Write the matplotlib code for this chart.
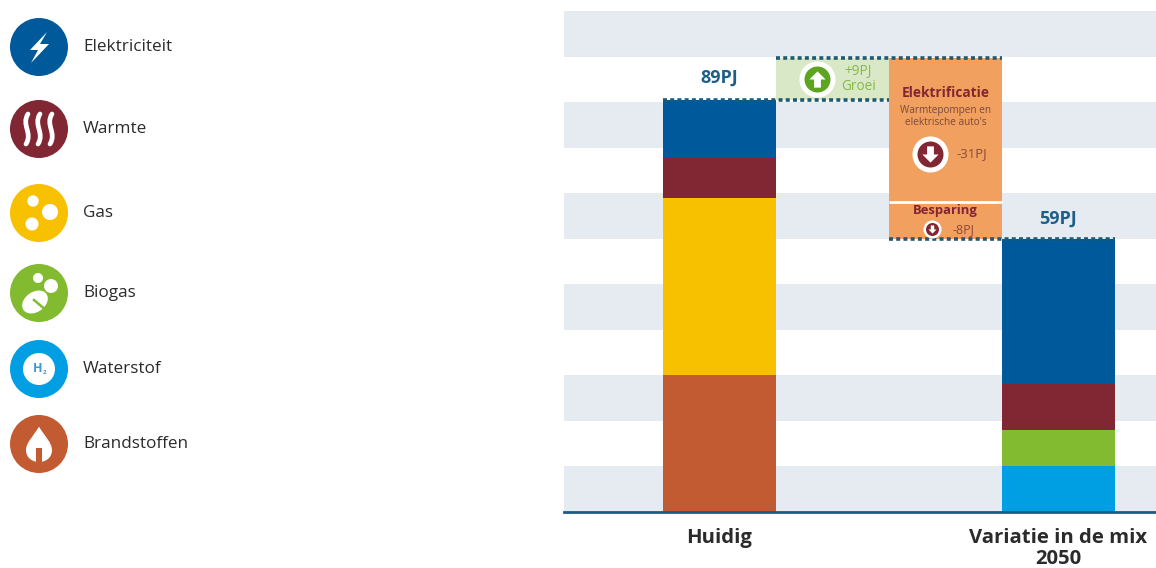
import matplotlib
matplotlib.use("Agg")
import matplotlib.pyplot as plt
from matplotlib.patches import Circle, Ellipse, Polygon, PathPatch, Rectangle
from matplotlib.path import Path

plt.rcParams['font.family'] = ['Open Sans', 'DejaVu Sans']

# Energy mix in PJ, bottom to top
categories = ["Huidig", "Variatie in de mix\n2050"]
huidig_names = ["Brandstoffen", "Gas", "Warmte", "Elektriciteit"]
huidig_values = [29.6, 38.2, 8.6, 12.6]
mix_names = ["Waterstof", "Biogas", "Warmte", "Elektriciteit"]
mix_values = [9.9, 7.8, 9.9, 31.4]
totals = [89, 59]
groei = 9
elektrificatie = 31
besparing = 8

legend_names = ["Elektriciteit", "Warmte", "Gas", "Biogas", "Waterstof", "Brandstoffen"]
legend_y = [47, 129, 213, 293, 369, 444]

colors = {
    "Elektriciteit": "#00599a",
    "Warmte": "#812633",
    "Gas": "#f7c100",
    "Biogas": "#82bb30",
    "Waterstof": "#009fe3",
    "Brandstoffen": "#c25b32",
}
band_color = "#e6ebf2"
orange = "#f2a05f"
light_green = "#d9e8c6"
dot_color = "#1f5a70"
title_blue = "#1f5f85"
text_color = "#2b2b2b"

W, H = 1156, 568
BASE = 512
PX_PER_PJ = 4.63
BAND = 9.83

fig = plt.figure(figsize=(W / 100, H / 100), dpi=100)

# Main chart, one x unit is one column width
ax = fig.add_axes([564 / W, (H - BASE) / H, (W - 564) / W, BASE / H])
ax.set_xlim(-1.376, 3.863)
ax.set_ylim(0, BASE / PX_PER_PJ)
ax.patch.set_visible(False)

# Horizontal background stripes
for k in range(6):
    ax.axhspan(2 * k * BAND, (2 * k + 1) * BAND, color=band_color, lw=0, zorder=0)

# Stacked columns
for x, names, values in [(0, huidig_names, huidig_values), (3, mix_names, mix_values)]:
    bottom = 0
    for name, val in zip(names, values):
        ax.bar(x, val, width=1, bottom=bottom, color=colors[name], zorder=2)
        bottom += val

# Waterfall steps between the two columns
top = totals[0] + groei
ax.bar(1, groei, width=1, bottom=totals[0], color=light_green, zorder=1)
ax.bar(2, elektrificatie, width=1, bottom=top - elektrificatie, color=orange, zorder=1)
ax.bar(2, besparing, width=1, bottom=totals[1], color=orange, zorder=1)
ax.hlines(top - elektrificatie, 1.5, 2.5, color="white", lw=2, zorder=2)

# Dotted level lines
dots = dict(color=dot_color, lw=2.6, linestyle=(0, (1.1, 0.9)), zorder=3)
ax.plot([-0.5, 1.5], [totals[0], totals[0]], **dots)
ax.plot([0.5, 2.5], [top, top], **dots)
ax.plot([1.5, 3.5], [totals[1], totals[1]], **dots)

# Totals above the columns
ax.text(0, totals[0] + 4.7, f"{totals[0]}PJ", color=title_blue, fontsize=13,
        fontweight="bold", ha="center", va="center")
ax.text(3, totals[1] + 4.4, f"{totals[1]}PJ", color=title_blue, fontsize=13,
        fontweight="bold", ha="center", va="center")

ARROW_UP = [(0, 1), (1, 0), (0.42, 0), (0.42, -1), (-0.42, -1), (-0.42, 0), (-1, 0)]
ARROW_DOWN = [(px, -py) for px, py in ARROW_UP]


def arrow_badge(x, y, ring, color, arrow):
    ax.plot(x, y, marker="o", ms=ring, mfc="white", mec="none", zorder=4)
    ax.plot(x, y, marker="o", ms=ring * 0.72, mfc=color, mec="none", zorder=5)
    ax.plot(x, y, marker=arrow, ms=ring * 0.45, mfc="white", mec="none", zorder=6)


# Growth box
mid_groei = totals[0] + groei / 2
arrow_badge(0.863, mid_groei, 26, "#5ea51f", ARROW_UP)
ax.text(1.226, mid_groei, f"+{groei}PJ\nGroei", color="#86b84a", fontsize=9.8,
        ha="center", va="center", linespacing=1.0)

# Electrification box
el_top = top
ax.text(2, el_top - 7.4, "Elektrificatie", color=colors["Warmte"], fontsize=9.8,
        fontweight="bold", ha="center", va="center")
ax.text(2, el_top - 12.6, "Warmtepompen en\nelektrische auto's", color="#7a4a3a", fontsize=7.2,
        ha="center", va="center", linespacing=1.2)
arrow_badge(1.863, el_top - 20.6, 26, colors["Warmte"], ARROW_DOWN)
ax.text(2.23, el_top - 20.6, f"-{elektrificatie}PJ", color="#8a4a3a", fontsize=9.5,
        ha="center", va="center")

# Savings box
ax.text(2, totals[1] + 6.2, "Besparing", color=colors["Warmte"], fontsize=9.4,
        fontweight="bold", ha="center", va="center")
arrow_badge(1.88, totals[1] + 2.1, 13, colors["Warmte"], ARROW_DOWN)
ax.text(2.16, totals[1] + 2.1, f"-{besparing}PJ", color="#8a4a3a", fontsize=9,
        ha="center", va="center")

# Axis: only the baseline and the category labels
for s in ["top", "left", "right"]:
    ax.spines[s].set_visible(False)
ax.spines["bottom"].set_color("#1d5a85")
ax.spines["bottom"].set_linewidth(2)
ax.spines["bottom"].set_zorder(7)
ax.set_yticks([])
ax.set_xticks([0, 3])
ax.set_xticklabels(categories, fontsize=14.6, fontweight="bold", color=text_color, linespacing=1.1)
ax.tick_params(axis="x", length=0, pad=11.5)

# Legend in pixel coordinates
lg = fig.add_axes([0, 0, 1, 1])
lg.set_xlim(0, W)
lg.set_ylim(H, 0)
lg.axis("off")


def stroke(cx, cy, verts, codes=None, **kw):
    pts = [(cx + a, cy + b) for a, b in verts]
    lg.add_patch(PathPatch(Path(pts, codes), **kw))


def icon_elektriciteit(cx, cy):
    bolt = [(8, -15), (-9, 3), (-1, 3), (-8, 16), (10, -3), (1, -3)]
    lg.add_patch(Polygon([(cx + a, cy + b) for a, b in bolt], fc="white", ec="none"))


def icon_warmte(cx, cy):
    c4 = [Path.MOVETO, Path.CURVE4, Path.CURVE4, Path.CURVE4]
    for dx in (-12, 0, 12):
        stroke(cx, cy, [(dx + 1, -15), (dx - 6, -4), (dx + 6, 4), (dx - 1, 15)], c4,
               fc="none", ec="white", lw=3.4, capstyle="round")


def icon_gas(cx, cy):
    for dx, dy, r in [(-6, -12, 5.7), (11, -1, 8), (-7, 11, 6.5)]:
        lg.add_patch(Circle((cx + dx, cy + dy), r, fc="white", ec="none"))


def icon_biogas(cx, cy):
    for dx, dy, r in [(-1, -15, 5), (12, -7, 7)]:
        lg.add_patch(Circle((cx + dx, cy + dy), r, fc="white", ec="none"))
    lg.add_patch(Ellipse((cx - 4, cy + 9), 28, 20, angle=-35, fc="white", ec="none"))
    lg.plot([cx - 5, cx + 8], [cy + 7, cy + 18], color=colors["Biogas"], lw=1.8)


def icon_waterstof(cx, cy):
    lg.add_patch(Circle((cx, cy), 16, fc="white", ec="none"))
    lg.text(cx - 1.5, cy - 0.5, "H", color="#3f97cf", fontsize=9, fontweight="bold",
            ha="center", va="center")
    lg.text(cx + 6, cy + 4, "2", color="#3f97cf", fontsize=4.5, fontweight="bold",
            ha="center", va="center")


def icon_brandstoffen(cx, cy):
    c4 = [Path.MOVETO, Path.CURVE4, Path.CURVE4, Path.CURVE4, Path.CURVE4, Path.CURVE4, Path.CURVE4]
    drop = [(0, -17), (-6, -8), (-13, -1), (-13, 6), (-13, 22), (13, 22), (13, 6)]
    stroke(cx, cy, drop, c4, fc="white", ec="none")
    stroke(cx, cy, [(13, 6), (13, -1), (6, -8), (0, -17)], c4[:4], fc="white", ec="none")
    lg.add_patch(Polygon([(cx - 13, cy + 6), (cx, cy - 17), (cx + 13, cy + 6)], fc="white", ec="none"))
    lg.add_patch(Rectangle((cx - 3, cy + 4), 6, 16, fc=colors["Brandstoffen"], ec="none"))


icon_draw = {
    "Elektriciteit": icon_elektriciteit,
    "Warmte": icon_warmte,
    "Gas": icon_gas,
    "Biogas": icon_biogas,
    "Waterstof": icon_waterstof,
    "Brandstoffen": icon_brandstoffen,
}

for name, y in zip(legend_names, legend_y):
    lg.add_patch(Circle((39, y), 29, fc=colors[name], ec="none"))
    icon_draw[name](39, y)
    lg.text(83, y, name, fontsize=12.3, color=text_color, ha="left", va="center")

fig.savefig("out.png", dpi=100)
